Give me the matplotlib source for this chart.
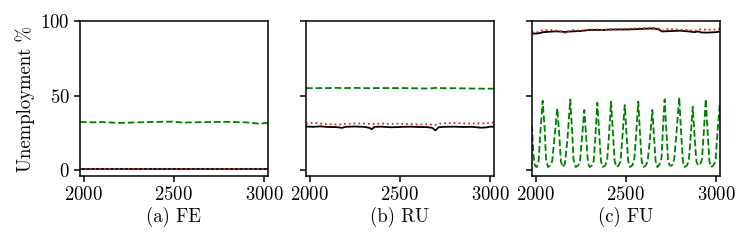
import matplotlib
matplotlib.use("Agg")
import matplotlib.pyplot as plt

plt.rcParams['font.family'] = ['cmr10', 'DejaVu Serif']
plt.rcParams['mathtext.fontset'] = 'cm'
plt.rcParams['axes.formatter.use_mathtext'] = True
plt.rcParams['font.size'] = 13.5
plt.rcParams['axes.linewidth'] = 1.1

# (a) FE
fe_x = [1980, 2050, 2100, 2200, 2300, 2400, 2500, 2550, 2600, 2700, 2800, 2900, 2950, 2980, 3000, 3022]
fe_green = [32.3, 32.0, 32.2, 31.6, 32.0, 32.3, 32.5, 31.8, 32.0, 32.2, 32.3, 32.0, 31.4, 31.0, 31.5, 31.5]
fe_black = [0.4] * len(fe_x)
fe_red = [0.6] * len(fe_x)

# (b) RU
ru_x = [1980, 2020, 2060, 2100, 2150, 2180, 2200, 2250, 2300, 2330, 2344, 2360, 2400, 2450, 2480,
        2520, 2560, 2600, 2650, 2680, 2697, 2715, 2750, 2800, 2850, 2900, 2950, 2980, 3000, 3022]
ru_green = [55.0, 54.9, 55.0, 55.0, 55.1, 55.0, 55.0, 55.1, 55.0, 54.9, 54.9, 55.0, 55.0, 55.0, 55.0,
            55.0, 54.9, 54.8, 54.7, 54.9, 55.1, 55.0, 54.9, 54.9, 54.8, 54.7, 54.6, 54.6, 54.6, 54.6]
ru_black = [29.2, 29.0, 29.3, 28.9, 28.8, 28.3, 29.0, 29.2, 29.0, 28.4, 27.4, 29.0, 29.1, 28.7, 28.8,
            29.0, 29.1, 28.9, 28.8, 28.3, 26.6, 28.7, 29.0, 29.1, 28.9, 29.0, 28.4, 28.6, 29.1, 29.0]
ru_red = [31.0, 31.8, 31.2, 30.8, 30.6, 30.5, 31.0, 31.3, 31.2, 30.9, 30.7, 31.0, 31.2, 30.9, 31.1,
          31.0, 30.8, 30.6, 30.7, 30.5, 30.3, 31.1, 31.4, 31.5, 31.3, 31.2, 31.4, 31.3, 31.6, 31.8]

# (c) FU
fu_x = [1980, 2000, 2020, 2040, 2080, 2100, 2120, 2150, 2160, 2170, 2180, 2200, 2250, 2300, 2350,
        2380, 2400, 2450, 2500, 2550, 2600, 2650, 2680, 2700, 2720, 2760, 2800, 2850, 2880, 2900,
        2920, 2950, 3000, 3022]
fu_black = [91.5, 91.6, 91.8, 92.5, 92.8, 93.0, 93.0, 92.8, 92.6, 92.7, 92.9, 93.0, 93.3, 94.0, 94.0,
            94.0, 94.2, 94.3, 94.3, 94.5, 94.8, 95.0, 94.5, 93.0, 93.1, 93.3, 93.5, 93.0, 92.5, 93.0,
            92.3, 92.2, 92.5, 93.0]
fu_red = [92.5, 92.0, 93.0, 94.0, 94.0, 93.8, 93.5, 93.0, 92.5, 91.4, 93.0, 94.0, 93.5, 94.2, 94.5,
          93.8, 94.5, 94.5, 94.8, 95.0, 95.2, 95.5, 95.0, 93.5, 94.5, 94.5, 94.2, 94.0, 93.2, 94.5,
          94.3, 94.2, 94.3, 94.8]

fu_gx = [1980, 1988, 1996, 2006, 2016, 2026, 2039, 2050, 2058, 2068, 2080, 2092, 2105, 2120, 2131,
         2140, 2150, 2162, 2176, 2192, 2202, 2210, 2222, 2235, 2246, 2256, 2270, 2281, 2290, 2300,
         2312, 2322, 2331, 2342, 2353, 2362, 2372, 2385, 2396, 2406, 2418, 2429, 2438, 2448, 2460,
         2471, 2481, 2494, 2504, 2513, 2523, 2535, 2546, 2556, 2569, 2579, 2588, 2598, 2610, 2621,
         2633, 2647, 2657, 2665, 2675, 2688, 2698, 2705, 2715, 2726, 2734, 2744, 2756, 2768, 2781,
         2796, 2807, 2816, 2826, 2838, 2849, 2859, 2871, 2882, 2891, 2901, 2912, 2922, 2932, 2943,
         2954, 2963, 2972, 2985, 2997, 3008, 3022]
fu_green = [30, 10, 3, 2, 5, 25, 46.5, 28, 7, 2, 3, 6, 22, 41.4, 24,
            6, 2, 4, 20, 47.4, 27, 7, 2, 3, 6, 20, 40.3, 21, 5, 2,
            3, 6, 22, 45.2, 24, 6, 2, 3, 6, 22, 45.9, 24, 6, 2, 3,
            6, 22, 43.6, 24, 6, 2, 3, 6, 22, 45.9, 24, 6, 2, 3, 6,
            20, 40.3, 21, 6, 2, 4, 8, 26, 47.4, 24, 6, 3, 3, 7, 25,
            48.8, 24, 6, 2, 3, 6, 22, 42.5, 21, 6, 3, 4, 7, 25, 47.6,
            24, 6, 2, 3, 6, 25, 46]

panels = [
    ("(a) FE", fe_x, fe_black, fe_red, fe_x, fe_green),
    ("(b) RU", ru_x, ru_black, ru_red, ru_x, ru_green),
    ("(c) FU", fu_x, fu_black, fu_red, fu_gx, fu_green),
]

fig = plt.figure(figsize=(7.47, 2.46), dpi=100)
lefts = [80 / 747, 306 / 747, 532 / 747]
for i, (title, x, black, red, gx, green) in enumerate(panels):
    ax = fig.add_axes([lefts[i], 1 - 176 / 246, 188 / 747, 155 / 246])
    ax.plot(gx, green, color="green", linestyle="--", linewidth=1.3)
    ax.plot(x, black, color="black", linestyle="-", linewidth=1.3)
    ax.plot(x, red, color="tab:red", linestyle=":", linewidth=1.3)
    ax.set_xlim(1980, 3022)
    ax.set_ylim(-4, 100)
    ax.set_xticks([2000, 2500, 3000])
    ax.set_yticks([0, 50, 100])
    ax.tick_params(length=4, width=1.1)
    ax.set_xlabel(title, labelpad=2)
    if i == 0:
        ax.set_ylabel("Unemployment %")
    else:
        ax.set_yticklabels([])

fig.savefig("out.png", dpi=100)
